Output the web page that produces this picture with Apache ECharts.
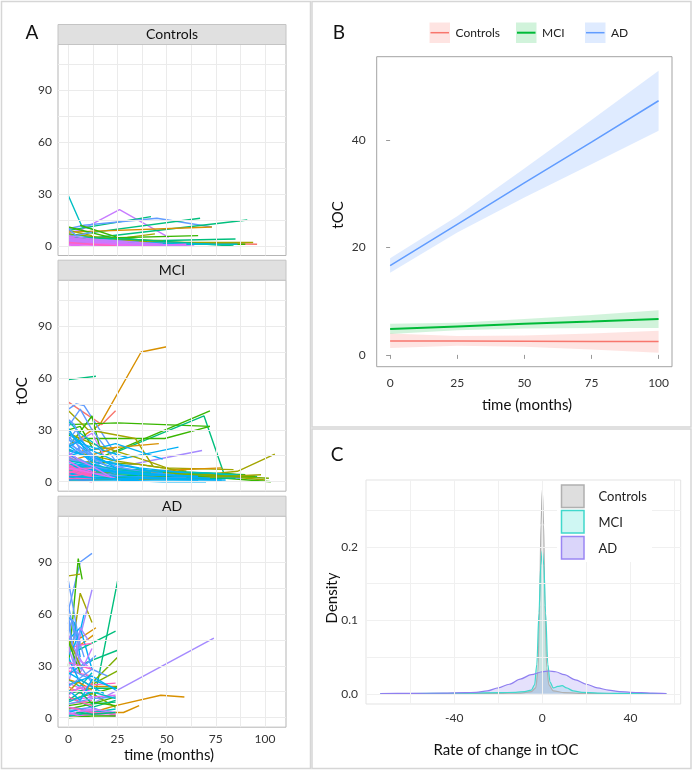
<!DOCTYPE html>
<html><head><meta charset="utf-8">
<script src="https://cdn.jsdelivr.net/npm/echarts@6/dist/echarts.min.js"></script>
<style>html,body{margin:0;padding:0;background:#fff}#c{width:693px;height:772px}</style>
</head><body><div id="c"></div><script>
// ---------------- DATA ----------------
const facetNames = ['Controls', 'MCI', 'AD'];
const aTimeTicks = [0, 25, 50, 75, 100];
const aValueTicks = [0, 30, 60, 90];

// Panel A: individual trajectories [time (months), tOC]
const ctrlLines = [
  [[0,29],[7,11],[12,10]], [[0,8],[6,9],[26,21],[51,5]], [[0,9],[42,17]], [[0,10],[8,12],[45,16],[73,11]],
  [[0,6],[67,16]], [[0,3],[91,15]], [[0,8],[73,11]], [[30,5],[44,7]], [[0,4],[66,6]], [[0,2],[85,4]],
  [[0,3],[48,2],[96,1]], [[0,4],[60,2],[94,2]], [[0,1],[90,1]], [[0,11],[25,4]], [[6,12],[25,5],[40,3]],
  [[0,7],[12,5],[24,3],[36,2]], [[0,5],[12,4],[24,3]], [[0,6],[24,2],[60,1]], [[0,9],[12,6]], [[0,7],[24,4],[48,3]],
  [[0,5],[30,4],[84,0]], [[0,4],[36,2],[72,1]], [[0,2],[48,1],[86,1]], [[0,10],[4,6],[12,8]], [[0,6],[6,3],[12,4]],
  [[0,5],[12,3],[24,2],[36,1]], [[0,4],[24,3],[48,1]], [[0,3],[12,2],[36,1],[60,0]], [[0,2],[24,1],[48,0]],
  [[0,1],[30,0],[54,0]], [[0,5],[6,4],[18,2]], [[0,4],[12,2],[24,1],[42,1]], [[0,3],[18,2],[40,0]],
  [[0,2],[6,1],[24,0]], [[0,6],[12,4],[30,2]], [[0,0],[12,1],[36,0],[60,1]], [[0,3],[24,2],[60,0]],
  [[0,1],[24,1],[48,0]], [[0,2],[12,1],[24,0]], [[0,4],[36,1],[64,0]]
];
const ctrlColors = 't p e b e e o y g e r y g g g c b t y l e c t b k m p m p m p m p m p m p m k p'.split(' ');

const mciLines = [
  [[0,59],[14,61]], [[2,22],[16,33],[37,75],[50,78]], [[0,46],[17,33],[24,41]], [[0,42],[4,45],[8,44],[25,14]],
  [[0,33],[25,34],[72,32]], [[24,17],[69,38],[79,5],[92,3]], [[8,10],[72,41]], [[0,27],[6,25],[49,25],[72,32]],
  [[5,8],[56,20]], [[10,5],[68,18]], [[0,41],[10,30],[34,25],[43,9]], [[60,3],[86,6],[105,16]],
  [[7,18],[46,22]], [[0,20],[12,38],[18,10]], [[0,30],[6,32],[12,20]], [[0,32],[6,42],[12,30],[24,12]],
  [[0,24],[12,20],[30,14]], [[0,15],[24,22],[48,13]], [[0,12],[36,10],[60,6]], [[0,18],[24,12],[48,8],[84,7]],
  [[0,9],[48,6],[90,4]], [[0,6],[60,5],[96,3]], [[0,5],[72,4],[100,1]], [[0,4],[80,2],[103,0]],
  [[0,7],[40,6],[78,8]], [[0,8],[30,5],[60,3],[88,2]], [[0,10],[24,7],[72,5],[95,3]], [[0,11],[18,8],[42,6]],
  [[0,28],[12,22],[40,12],[55,6]], [[0,12],[20,18],[24,20]], [[0,14],[12,9],[24,7]], [[0,20],[12,28],[18,15]],
  [[0,15],[12,10],[24,3]], [[0,35],[6,28],[18,18]], [[0,22],[6,18],[24,9],[40,5]], [[0,19],[12,13],[36,8],[60,5]],
  [[0,6],[24,5],[48,4],[72,3]], [[0,4],[36,3],[78,2]], [[0,3],[24,2],[60,2]], [[0,2],[48,1],[80,1]],
  [[0,8],[12,6],[36,4],[54,3]], [[0,10],[24,6],[48,3]], [[0,14],[12,8],[30,6]], [[0,5],[12,4],[24,3],[42,2]],
  [[0,3],[24,4],[60,2],[85,2]], [[0,2],[50,3],[95,3]], [[0,1],[60,2],[98,4]], [[0,6],[48,5],[102,2]],
  [[0,17],[6,12],[24,6]], [[0,26],[6,20],[18,10]],
  [[0,30],[3,25],[6,18],[12,10]], [[0,28],[6,22],[12,16],[24,8]], [[0,25],[3,20],[9,14],[18,8]],
  [[0,21],[6,16],[12,12],[30,6]], [[0,18],[12,14],[24,10],[48,5]], [[0,16],[6,12],[18,8],[36,5],[60,3]],
  [[0,13],[12,9],[30,6],[54,4]], [[0,11],[6,13],[12,9],[24,5]], [[0,9],[12,7],[36,5],[66,3]],
  [[0,7],[18,6],[42,4],[72,2]], [[0,6],[12,5],[30,3],[60,2]], [[0,4],[24,3],[54,2],[78,1]],
  [[0,2],[36,2],[66,1]], [[0,24],[4,30],[8,22],[14,12]], [[0,31],[2,27],[6,23],[10,15]],
  [[0,36],[3,33],[6,25],[12,15]], [[0,20],[6,24],[12,18],[24,12]], [[0,15],[6,20],[12,14],[24,6]],
  [[0,12],[12,10],[24,7],[42,5]], [[0,8],[6,10],[18,7],[36,4]],
  [[0,10],[6,6],[12,4]], [[0,8],[6,5],[14,2]], [[0,6],[12,3]], [[0,4],[6,2],[12,1]], [[0,2],[12,0]],
  [[0,9],[12,3]], [[0,5],[6,7],[12,5]], [[0,3],[6,4],[14,6]], [[0,7],[12,8]], [[0,1],[6,2],[12,2]],
  [[0,12],[6,8],[12,6]], [[0,8],[12,5],[24,2]], [[0,17],[6,12],[12,9],[24,1]], [[0,1],[24,1],[48,0],[70,0]],
  [[0,3],[18,2],[36,1]]
];
const mciColors = ('e o r b g e g g c v y y o g g b c c l y g e y g o b t c y o r p m t b c c t b c t c b c e g y l c b ' +
  'b c b c c c b b c c b c c b c b c b t c ' +
  'k k k k k k k k k k m m p c c').split(' ');

const adLines = [
  [[0,62],[6,90],[12,95]], [[0,30],[5,92],[7,80]], [[0,82],[6,83]], [[2,40],[6,72],[12,55]],
  [[0,2],[12,4],[25,79]], [[0,20],[12,74]], [[0,79],[3,60],[6,40]], [[6,46],[14,52]], [[6,42],[13,48]],
  [[5,39],[24,50]], [[7,31],[25,39]], [[12,20],[25,35]], [[10,18],[25,27]], [[12,8],[74,46]],
  [[12,3],[24,7],[47,13],[59,12]], [[0,1],[24,3],[28,3],[36,7]], [[12,18],[25,18]], [[0,14],[12,17],[25,17]],
  [[6,12],[25,18]], [[0,58],[3,55],[6,35]], [[0,65],[3,48],[6,30],[12,20]], [[0,45],[6,52],[12,28]],
  [[0,38],[4,50],[8,35]], [[0,32],[6,26],[12,40]], [[0,40],[6,42],[12,43]], [[0,27],[12,24]],
  [[0,20],[6,17],[12,15]], [[0,8],[12,10]], [[0,25],[6,30],[12,33]], [[0,30],[6,25],[12,22]],
  [[0,22],[6,18],[12,26]], [[0,35],[6,20],[12,12]], [[0,12],[12,6],[24,10]], [[0,5],[12,8],[24,12]],
  [[0,10],[12,14],[24,6]], [[0,15],[6,22],[12,18]], [[0,22],[6,20],[12,16]], [[0,18],[6,14],[12,20]],
  [[0,15],[12,19],[24,20]], [[0,10],[12,12],[24,13]], [[0,6],[12,4],[24,2]], [[0,4],[12,6],[24,1]],
  [[0,3],[6,5],[12,2]], [[0,1],[12,3],[24,5]], [[0,6],[12,3],[24,2]], [[0,2],[12,5],[24,3]],
  [[0,55],[2,42],[6,28]], [[0,48],[4,38],[8,30]], [[0,60],[3,30],[6,45]], [[0,36],[3,42],[6,50],[8,60]],
  [[0,10],[6,15],[12,8],[24,9]], [[0,7],[12,9],[24,7]], [[6,28],[12,34],[14,36]], [[0,28],[6,33],[12,28]],
  [[0,45],[3,38],[6,30]], [[0,44],[3,35],[6,26]], [[0,16],[6,10],[12,22],[24,17]], [[0,3],[6,1],[12,2],[24,1]],
  [[0,12],[6,9],[12,7]], [[0,32],[6,30],[12,28]], [[0,8],[12,11],[24,12]], [[0,19],[12,24],[24,16]],
  [[4,3],[12,2],[24,3]], [[0,41],[3,30],[6,52],[10,45]], [[0,50],[2,57],[4,46]], [[0,0],[12,1],[24,1]],
  [[0,26],[12,18],[18,14]], [[0,13],[6,18],[12,11]], [[0,9],[6,12],[12,15],[24,11]], [[0,18],[12,28],[20,24]]
];
const adColors = ('b g y y e v b o o e e l l v o o o e g c b c b p k k m k c b t c e g l y o r k m p b c t k p ' +
  'b v b c e g b p y g c m k k b c e v b g c p t b').split(' ');

// Panel B: fitted trajectories with confidence band
const bTime = [0, 25, 50, 75, 100];
const bFitControls = [2.6, 2.6, 2.55, 2.5, 2.5];
const bLowControls = [1.3, 1.7, 1.5, 1.0, 0.4];
const bUpControls  = [4.0, 3.5, 3.6, 4.0, 4.5];
const bFitMCI = [4.8, 5.3, 5.8, 6.2, 6.7];
const bLowMCI = [3.9, 4.6, 4.9, 5.0, 5.0];
const bUpMCI  = [5.8, 6.0, 6.7, 7.4, 8.3];
const bFitAD = [16.6, 24.3, 32.0, 39.6, 47.3];
const bLowAD = [15.3, 22.8, 29.3, 35.5, 41.7];
const bUpAD  = [18.0, 25.8, 34.7, 43.7, 52.9];
const bTimeTicks = [0, 25, 50, 75, 100];
const bValueTicks = [0, 20, 40];

// Panel C: densities of the rate of change in tOC
const densCtrlX = [-73.5,-40,-20,-10,-5,-3,-2,-1.2,-0.6,0,0.6,1.2,2,3,5,10,20,40,56.3];
const densCtrlY = [0,0,0.0005,0.001,0.003,0.008,0.03,0.12,0.23,0.277,0.23,0.12,0.035,0.012,0.004,0.0015,0.0005,0,0];
const densMciX = [-73.5,-50,-35,-20,-12,-8,-5,-3.5,-2.5,-1.5,-0.7,0,0.7,1.5,2.5,3.5,5,7,9,11,14,18,25,35,56.3];
const densMciY = [0,0.0005,0.001,0.0015,0.002,0.003,0.005,0.012,0.04,0.11,0.175,0.195,0.175,0.11,0.04,0.016,0.008,0.01,0.011,0.008,0.004,0.002,0.001,0.0005,0];
const densAdX = [-73.5,-60,-45,-35,-30,-25,-20,-15,-10,-5,0,3,6,10,15,20,25,30,35,40,45,50,56.3];
const densAdY = [0.0004,0.0005,0.001,0.0015,0.002,0.004,0.008,0.013,0.02,0.026,0.030,0.031,0.030,0.026,0.019,0.013,0.008,0.005,0.003,0.002,0.0015,0.0008,0.0004];
const cXTicks = [-40, 0, 40];
const cYTicks = [0, 0.1, 0.2];

// ---------------- STYLE / LAYOUT ----------------
const FONT = 'Lato, "DejaVu Sans", sans-serif';
const PAL = { r:'#F8766D', o:'#D89000', y:'#A3A500', l:'#7CAE00', g:'#39B600', e:'#00BF7D', t:'#00BFC4',
  c:'#00B0F6', b:'#619CFF', v:'#A58AFF', p:'#C77CFF', m:'#E76BF3', k:'#FF62BC' };
const labelStyle = { fontFamily: FONT, fontSize: 12, color: '#333' };

const facetTops = [44.5, 280.2, 516.2];
const grids = facetTops.map(t => ({ left: 58, top: t, width: 228, height: 211, show: true,
  borderColor: '#b5b5b5', borderWidth: 1, backgroundColor: '#fff' }));
grids.push({ left: 376.7, top: 56.7, width: 295.3, height: 310, show: true, borderColor: '#a3a3a3', borderWidth: 1 });
grids.push({ left: 366, top: 480, width: 314.7, height: 224, show: true, borderColor: '#e3e3e3', borderWidth: 1 });

const xAxes = [], yAxes = [];
for (let f = 0; f < 3; f++) {
  xAxes.push({ gridIndex: f, type: 'value', min: -5.3, max: 110.7, axisLine: { show: false }, splitLine: { show: false },
    axisTick: { show: f === 2, customValues: aTimeTicks, length: 4, lineStyle: { color: '#888' } },
    axisLabel: Object.assign({ show: f === 2, customValues: aTimeTicks, margin: 6 }, labelStyle) });
  yAxes.push({ gridIndex: f, type: 'value', min: -5.5, max: 116.5, axisLine: { show: false }, splitLine: { show: false },
    axisTick: { show: true, customValues: aValueTicks, length: 4, lineStyle: { color: '#888' } },
    axisLabel: Object.assign({ customValues: aValueTicks, margin: 6 }, labelStyle) });
}
xAxes.push({ gridIndex: 3, type: 'value', min: -5, max: 105, axisLine: { show: false }, splitLine: { show: false },
  axisTick: { customValues: bTimeTicks, length: 4, lineStyle: { color: '#999' } },
  axisLabel: Object.assign({ customValues: bTimeTicks, margin: 10 }, labelStyle) });
yAxes.push({ gridIndex: 3, type: 'value', min: -2.2, max: 55.5, axisLine: { show: false }, splitLine: { show: false },
  axisTick: { customValues: bValueTicks, length: 4, lineStyle: { color: '#999' } },
  axisLabel: Object.assign({ customValues: bValueTicks, margin: 11 }, labelStyle) });
xAxes.push({ gridIndex: 4, type: 'value', min: -80, max: 62.8, axisLine: { show: false }, splitLine: { show: false },
  axisTick: { customValues: cXTicks, length: 3, lineStyle: { color: '#ddd' } },
  axisLabel: Object.assign({ customValues: cXTicks, margin: 8 }, labelStyle) });
yAxes.push({ gridIndex: 4, type: 'value', min: -0.0139, max: 0.291, axisLine: { show: false }, splitLine: { show: false },
  axisTick: { show: false },
  axisLabel: Object.assign({ customValues: cYTicks, margin: 8, formatter: v => v.toFixed(1) }, labelStyle) });

function gridLines(i, xs, ys, color) {
  return { type: 'line', xAxisIndex: i, yAxisIndex: i, data: [], z: 1, silent: true,
    markLine: { silent: true, animation: false, symbol: ['none', 'none'], label: { show: false },
      lineStyle: { color: color, width: 1, type: 'solid' }, emphasis: { disabled: true },
      data: xs.map(v => ({ xAxis: v })).concat(ys.map(v => ({ yAxis: v }))) } };
}

const series = [];
for (let f = 0; f < 3; f++) series.push(gridLines(f, [0,12.5,25,37.5,50,62.5,75,87.5,100], [0,15,30,45,60,75,90,105], '#ebebeb'));
series.push(gridLines(4, [-60,-40,-20,0,20,40,60], [0,0.05,0.1,0.15,0.2,0.25], '#f0f0f0'));

[[ctrlLines, ctrlColors], [mciLines, mciColors], [adLines, adColors]].forEach(([lines, cols], f) => {
  lines.forEach((ln, i) => series.push({ type: 'line', xAxisIndex: f, yAxisIndex: f, data: ln, symbol: 'none',
    silent: true, z: 3, lineStyle: { width: 1.4, color: PAL[cols[i]] || PAL.b }, emphasis: { disabled: true } }));
});

function band(low, up, fill) {
  return { type: 'custom', xAxisIndex: 3, yAxisIndex: 3, silent: true, z: 2, data: [[bTime[0], low[0]]],
    renderItem: (params, api) => {
      const pts = bTime.map((t, i) => api.coord([t, up[i]]))
        .concat(bTime.map((t, i) => api.coord([t, low[i]])).reverse());
      return { type: 'polygon', shape: { points: pts }, style: { fill: fill } };
    } };
}
function fit(vals, color, w) {
  return { type: 'line', xAxisIndex: 3, yAxisIndex: 3, data: bTime.map((t, i) => [t, vals[i]]), symbol: 'none',
    silent: true, z: 3, lineStyle: { color: color, width: w } };
}
series.push(band(bLowControls, bUpControls, 'rgba(248,118,109,0.2)'));
series.push(band(bLowMCI, bUpMCI, 'rgba(0,186,56,0.18)'));
series.push(band(bLowAD, bUpAD, 'rgba(97,156,255,0.2)'));
series.push(fit(bFitControls, '#F8766D', 1.5));
series.push(fit(bFitMCI, '#00BA38', 2));
series.push(fit(bFitAD, '#619CFF', 1.5));

function dens(xs, ys, line, fill) {
  return { type: 'line', xAxisIndex: 4, yAxisIndex: 4, data: xs.map((x, i) => [x, ys[i]]), symbol: 'none',
    smooth: 0.3, smoothMonotone: 'x', silent: true, z: 3, lineStyle: { color: line, width: 1.2 },
    areaStyle: { color: fill } };
}
series.push(dens(densCtrlX, densCtrlY, '#b0b0b0', 'rgba(190,190,190,0.55)'));
series.push(dens(densMciX, densMciY, '#40d8cc', 'rgba(64,224,208,0.25)'));
series.push(dens(densAdX, densAdY, '#8f7ff0', 'rgba(123,104,238,0.28)'));

// ---------------- GRAPHIC (frames, strips, titles, legends) ----------------
function txt(text, x, y, size, opts) {
  return Object.assign({ type: 'text', x: x, y: y, z: 60, silent: true,
    style: { text: text, fontFamily: FONT, fontSize: size, fill: '#111', align: 'center', verticalAlign: 'middle' } }, opts || {});
}
const g = [];
const frame = '#d6d6d6';
g.push({ type: 'rect', shape: { x: 1.5, y: 1.5, width: 309, height: 767 }, style: { fill: 'none', stroke: frame, lineWidth: 1.5 }, z: 60, silent: true });
g.push({ type: 'rect', shape: { x: 312, y: 1.5, width: 379, height: 425.5 }, style: { fill: 'none', stroke: frame, lineWidth: 1.5 }, z: 60, silent: true });
g.push({ type: 'rect', shape: { x: 312, y: 429, width: 379, height: 339.5 }, style: { fill: 'none', stroke: frame, lineWidth: 1.5 }, z: 60, silent: true });
facetTops.forEach((t, f) => {
  g.push({ type: 'rect', shape: { x: 58, y: t - 20, width: 228, height: 20 }, style: { fill: '#e0e0e0', stroke: '#c4c4c4', lineWidth: 1 }, z: 60, silent: true });
  g.push(txt(facetNames[f], 172, t - 10, 14));
});
g.push(txt('A', 32, 33, 19));
g.push(txt('B', 339, 33, 19));
g.push(txt('C', 337, 455, 19));
g.push(txt('tOC', 22, 391, 15, { rotation: Math.PI / 2 }));
g.push(txt('time (months)', 169, 755, 15));
g.push(txt('tOC', 338, 215, 15, { rotation: Math.PI / 2 }));
g.push(txt('time (months)', 527, 405, 15));
g.push(txt('Density', 332, 598, 15, { rotation: Math.PI / 2 }));
g.push(txt('Rate of change in tOC', 506, 750, 15));
// Legend B
[['Controls', 429.5, 'rgba(248,118,109,0.2)', '#F8766D', 1.5],
 ['MCI', 516, 'rgba(0,186,56,0.18)', '#00BA38', 2],
 ['AD', 585, 'rgba(97,156,255,0.2)', '#619CFF', 1.5]].forEach(([name, x, fill, col, w]) => {
  g.push({ type: 'rect', shape: { x: x, y: 22.5, width: 20.5, height: 20.5 }, style: { fill: fill }, z: 60, silent: true });
  g.push({ type: 'line', shape: { x1: x + 1, y1: 32.7, x2: x + 19.5, y2: 32.7 }, style: { stroke: col, lineWidth: w }, z: 61, silent: true });
  g.push(txt(name, x + 26, 33.5, 12, { style: { text: name, fontFamily: FONT, fontSize: 12, fill: '#222', align: 'left', verticalAlign: 'middle' } }));
});
// Legend C
g.push({ type: 'rect', shape: { x: 557, y: 481, width: 95, height: 81 }, style: { fill: '#fff' }, z: 50, silent: true });
[['Controls', 485, 'rgba(190,190,190,0.5)', '#b0b0b0'],
 ['MCI', 510.5, 'rgba(64,224,208,0.25)', '#40d8cc'],
 ['AD', 536.5, 'rgba(123,104,238,0.28)', '#9a86f4']].forEach(([name, y, fill, col]) => {
  g.push({ type: 'rect', shape: { x: 561.5, y: y, width: 22.5, height: 22.5 }, style: { fill: fill, stroke: col, lineWidth: 1.5 }, z: 60, silent: true });
  g.push(txt(name, 598.5, y + 12, 13, { style: { text: name, fontFamily: FONT, fontSize: 13, fill: '#222', align: 'left', verticalAlign: 'middle' } }));
});

const chart = echarts.init(document.getElementById('c'), null, { renderer: 'canvas' });
chart.setOption({
  animation: false,
  backgroundColor: '#fff',
  grid: grids,
  xAxis: xAxes,
  yAxis: yAxes,
  series: series,
  graphic: { elements: g }
});
</script></body></html>
